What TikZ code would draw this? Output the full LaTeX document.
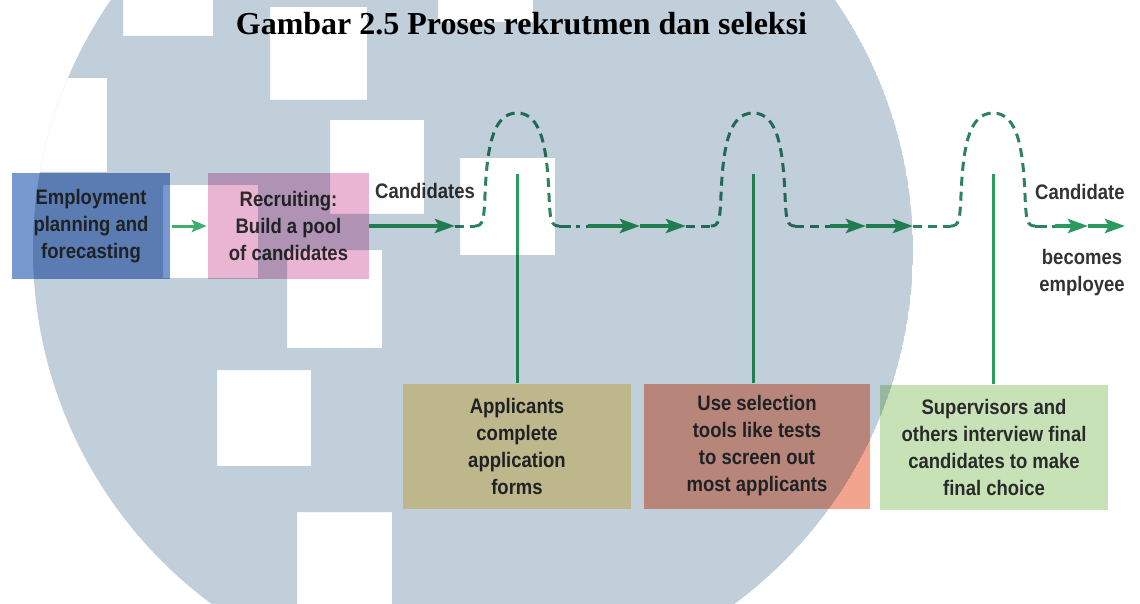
\documentclass[tikz,border=0pt]{standalone}
\usepackage{fontspec}
\setmainfont{Liberation Serif}
\newfontfamily\boxfont{Liberation Sans}[FakeStretch=0.88]
\usepackage{tikz}
\usetikzlibrary{arrows.meta}
\definecolor{rsGreen}{HTML}{2B9A5E}
\definecolor{rsDash}{HTML}{2C8262}
\definecolor{rsLight}{HTML}{3FAF6F}
\definecolor{rsInk}{HTML}{2A2A2A}
\definecolor{rsMark}{HTML}{C1CFDB}
\definecolor{rsBlue}{HTML}{7899D0}
\definecolor{rsPink}{HTML}{E9B5D2}
\definecolor{rsSand}{HTML}{FCE2A2}
\definecolor{rsSalmon}{HTML}{F2A48E}
\definecolor{rsMint}{HTML}{C8E2B8}
\tikzset{
  rs diagram/.style={font=\boxfont\bfseries\fontsize{21}{27}\selectfont,
    text=rsInk, x=1pt, y=-1pt},
  rs box/.style={draw=none, align=center, inner sep=0pt,
    minimum width=158pt, minimum height=106pt},
  rs task/.style={rs box, minimum width=228pt, minimum height=125pt},
  rs arrow/.style={draw=rsGreen, line width=4pt,
    -{Stealth[length=20pt,width=14pt,inset=4pt]}},
  rs small arrow/.style={draw=rsLight, line width=3pt,
    -{Stealth[length=15pt,width=12pt,inset=3pt]}},
  rs dash/.style={draw=rsDash, line width=3pt, dash pattern=on 9pt off 6pt},
  rs dashdot/.style={rs dash, dash pattern=on 12pt off 5pt on 4pt off 6pt},
  rs stem/.style={draw=rsGreen, line width=3pt},
  rs label/.style={text=black!80, inner sep=0pt},
  hump/.pic={
    \coordinate (-in) at (-42,0);
    \coordinate (-out) at (42,0);
    \coordinate (-stem) at (0,-52);
    \draw[rs dash] (-in) .. controls (-34,0) and (-33,-6) .. (-32,-31)
      .. controls (-30,-76) and (-25,-113) .. (0,-113)
      .. controls (25,-113) and (30,-76) .. (32,-31)
      .. controls (33,-6) and (34,0) .. (-out);
  }
}

\begin{document}
\begin{tikzpicture}[rs diagram]
\useasboundingbox (0,0) rectangle (1140,604);
\fill[white] (0,0) rectangle (1140,604);
\clip (0,0) rectangle (1140,604);

\node[font=\rmfamily\bfseries\fontsize{32}{38}\selectfont, text=black, anchor=base]
  (title) at (521.5,35) {Gambar 2.5 Proses rekrutmen dan seleksi};

% boxes along the top line
\node[rs box, fill=rsBlue] (plan) at (91,226) {Employment\\planning and\\forecasting};
\node[rs box, fill=rsPink, minimum width=161pt] (pool) at (288.5,226) {Recruiting:\\Build a pool\\of candidates};
\draw[rs small arrow, shorten <=2pt, shorten >=1pt] (plan) -- (pool);

% the three screening steps
\node[rs task, fill=rsSand] (applic) at (517,446) {Applicants\\complete\\application\\forms};
\node[rs task, fill=rsSalmon, minimum width=226pt] (select) at (757,446) {Use selection\\tools like tests\\to screen out\\most applicants};
\node[rs task, fill=rsMint] (interview) at (994,447) {Supervisors and\\others interview final\\candidates to make\\final choice};

\pic (h1) at (517,226) {hump};
\pic (h2) at (753,226) {hump};
\pic (h3) at (993,226) {hump};

\coordinate (a1) at (455,226);
\coordinate (b1) at (588,226);
\coordinate (m1) at (640,226);
\coordinate (e1) at (686,226);
\coordinate (b2) at (830,226);
\coordinate (m2) at (866,226);
\coordinate (e2) at (913,226);
\coordinate (b3) at (1055,226);
\coordinate (m3) at (1088,226);
\coordinate (e3) at (1125,226);

\draw[rs arrow] (pool.east) -- (a1);
\draw[rs dash] (a1) -- (h1-in);
\draw[rs dashdot] (h1-out) -- (b1);
\draw[rs arrow] (b1) -- (m1);
\draw[rs arrow] (m1) -- (e1);
\draw[rs dash] (e1) -- (h2-in);
\draw[rs dash] (h2-out) -- (b2);
\draw[rs arrow] (b2) -- (m2);
\draw[rs arrow] (m2) -- (e2);
\draw[rs dash] (e2) -- (h3-in);
\draw[rs dashdot] (h3-out) -- (b3);
\draw[rs arrow] (b3) -- (m3);
\draw[rs arrow] (m3) -- (e3);

\draw[rs stem] (h1-stem) -- (h1-stem |- applic.north);
\draw[rs stem] (h2-stem) -- (h2-stem |- select.north);
\draw[rs stem] (h3-stem) -- (h3-stem |- interview.north);

\node[rs label, anchor=base west] (cands) at (375,199) {Candidates};
\node[rs label, anchor=base west] (cand) at (1035,200) {Candidate};
\node[rs label, anchor=north, align=center] (employ) at (1082,249) {becomes\\employee};

% watermark laid over the figure
\begin{scope}[blend mode=multiply]
  \clip (473,250) circle[radius=440];
  \fill[rsMark, even odd rule] (473,250) circle[radius=440]
    (0,78) rectangle (107,172)
    (123,0) rectangle (213,36)
    (270,7) rectangle (367,100)
    (438,0) rectangle (533,22)
    (330,120) rectangle (424,214)
    (460,158) rectangle (555,255)
    (163,185) rectangle (258,278)
    (287,250) rectangle (382,348)
    (217,370) rectangle (311,466)
    (297,512) rectangle (392,640);
\end{scope}
\end{tikzpicture}
\end{document}
